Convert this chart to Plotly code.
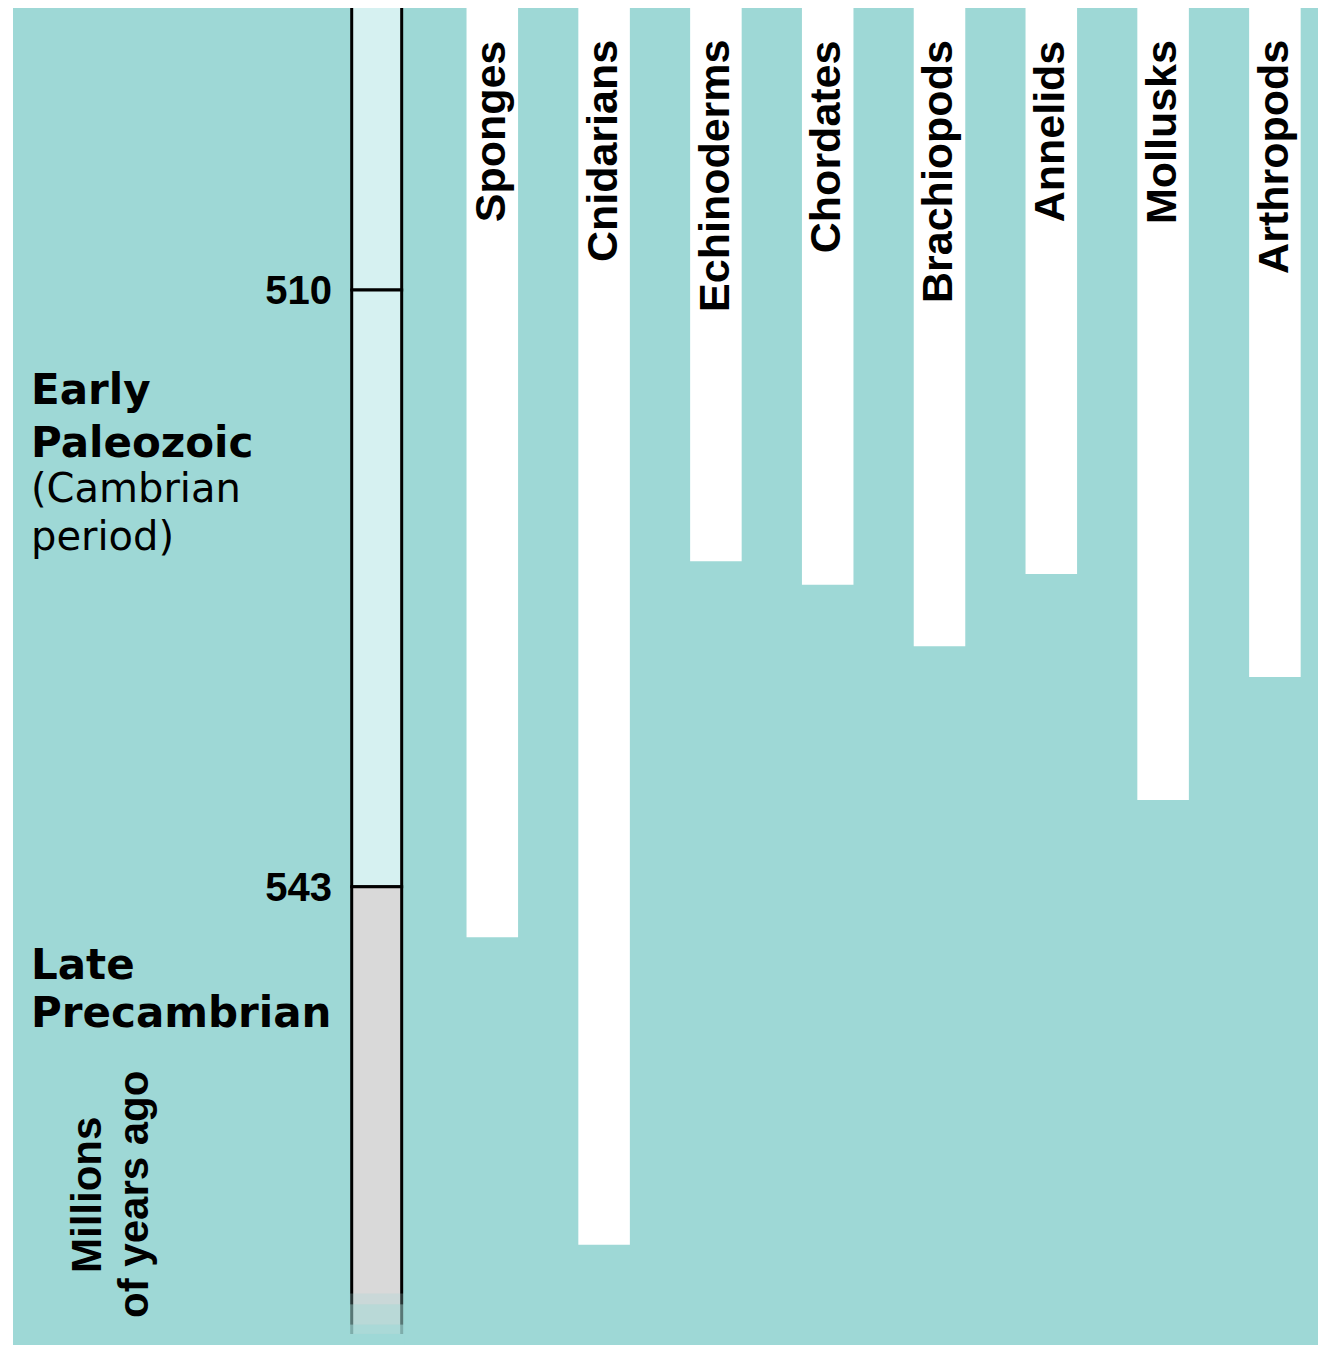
import plotly.graph_objects as go

# animal groups and the age (millions of years ago) of their earliest fossils
phyla = ["Sponges", "Cnidarians", "Echinoderms", "Chordates",
         "Brachiopods", "Annelids", "Mollusks", "Arthropods"]
first_appearance_mya = [545.8, 562.8, 525.0, 526.3, 529.7, 525.7, 538.2, 531.4]

# geologic time scale
boundary_mya = [510, 543]
boundary_labels = ["510", "543"]
era_lines = [["Early", "Paleozoic"], ["Late", "Precambrian"]]
period_lines = ["(Cambrian", "period)"]

TEAL = "#9ed8d6"
CAMBRIAN = "#d6f1f1"
PRECAMBRIAN = "#d9d9d9"

# page body adds an 8px margin, so the figure is drawn 8px smaller
PAGE = 8
W, H = 1326 - PAGE, 1345 - PAGE
# plot area in screen pixels
L, R, T, B = 13, 1321, 8, 1345
Y_TOP, Y_BOTTOM = 494.4, 568.35
SLOT, X0_PX = 111.8, 492.3
COLUMN_X = (376.7 - X0_PX) / SLOT


def px_x(px):
    return (px - L) / (R - L)


def px_y(py):
    return (B - py) / (B - T)


fig = go.Figure()

# bars hanging from the top down to first appearance
fig.add_trace(go.Bar(
    x=list(range(len(phyla))), y=first_appearance_mya, width=0.461,
    marker=dict(color="white", line_width=0), hoverinfo="skip",
))

# time scale column
seg_start = [Y_TOP - 5, boundary_mya[0], boundary_mya[1]]
seg_end = [boundary_mya[0], boundary_mya[1], Y_BOTTOM + 5]
seg_color = [CAMBRIAN, CAMBRIAN, PRECAMBRIAN]
for s, e, c in zip(seg_start, seg_end, seg_color):
    fig.add_trace(go.Bar(
        x=[COLUMN_X], y=[e - s], base=[s], width=0.447,
        marker=dict(color=c, line=dict(color="black", width=3)), hoverinfo="skip",
    ))

# fade out at the bottom of the column
fade_base = [565.5, 566.1, 567.2, 567.7]
fade_top = [566.1, 567.2, 567.7, 570]
fade_alpha = [0.25, 0.55, 0.8, 1.0]
fig.add_trace(go.Bar(
    x=[COLUMN_X] * len(fade_base), y=[t - b for b, t in zip(fade_base, fade_top)],
    base=fade_base, width=0.49,
    marker=dict(color=[f"rgba(158,216,214,{a})" for a in fade_alpha], line_width=0),
    hoverinfo="skip",
))

annotations = []
for i, name in enumerate(phyla):
    annotations.append(dict(
        x=i, xref="x", y=px_y(38), yref="paper", text=name, textangle=-90,
        xanchor="center", yanchor="top", xshift=-2, showarrow=False,
        font=dict(family="Liberation Sans", size=43, color="black", weight="bold"),
    ))

heavy = dict(family="DejaVu Sans", size=42, color="black", weight="bold")
plain = dict(family="DejaVu Sans", size=40, color="black")
left_text = [
    (era_lines[0][0], 389, heavy),
    (era_lines[0][1], 442.5, heavy),
    (period_lines[0], 488, plain),
    (period_lines[1], 535.5, plain),
    (era_lines[1][0], 964, heavy),
    (era_lines[1][1], 1012, heavy),
]
for text, ypx, font in left_text:
    annotations.append(dict(
        x=px_x(29), xref="paper", y=px_y(ypx), yref="paper", text=text,
        xanchor="left", yanchor="middle", showarrow=False, font=font,
    ))

unit_font = dict(family="Liberation Sans", size=42, color="black", weight="bold")
for text, xpx in [("Millions", 86), ("of years ago", 133)]:
    annotations.append(dict(
        x=px_x(xpx), xref="paper", y=px_y(1195), yref="paper", text=text,
        textangle=-90, xanchor="center", yanchor="middle", showarrow=False,
        font=unit_font,
    ))

fig.update_layout(
    width=W, height=H,
    margin=dict(l=L - PAGE, r=W - (R - PAGE), t=T - PAGE, b=H - (B - PAGE), pad=0),
    paper_bgcolor="white", plot_bgcolor=TEAL,
    barmode="overlay", showlegend=False,
    annotations=annotations,
)
fig.update_xaxes(
    range=[(L - X0_PX) / SLOT, (R - X0_PX) / SLOT], visible=False,
)
fig.update_yaxes(
    range=[Y_BOTTOM, Y_TOP], anchor="free", position=px_x(352),
    tickvals=boundary_mya, ticktext=boundary_labels, ticks="",
    showgrid=False, zeroline=False, showline=False, ticklabelstandoff=20,
    tickfont=dict(family="Liberation Sans", size=40, color="black", weight="bold"),
)

fig.write_html("out.html")
